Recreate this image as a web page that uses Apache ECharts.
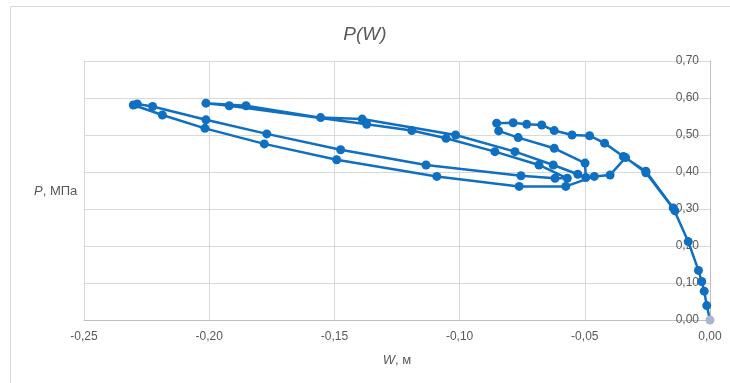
<!DOCTYPE html>
<html>
<head>
<meta charset="utf-8">
<script src="https://cdn.jsdelivr.net/npm/echarts@6/dist/echarts.min.js"></script>
<style>
html,body{margin:0;padding:0;background:#fff;}
#chart{width:730px;height:383px;}
</style>
</head>
<body>
<div id="chart"></div>
<script>
// Path of the P(W) curve, in drawing order
const W = [0, -0.0013, -0.0023, -0.0033, -0.0046, -0.0087, -0.0147, -0.0256, -0.0346,
  -0.0421, -0.0481, -0.0551, -0.0622, -0.0672, -0.0732, -0.0786, -0.0852, -0.0844, -0.0766, -0.0622, -0.0499,
  -0.0496, -0.0528, -0.0626,
  -0.0779, -0.1016, -0.1389, -0.1555, -0.1853, -0.2013,
  -0.1920, -0.1371, -0.1191, -0.1054, -0.0859, -0.0683, -0.0570,
  -0.0619, -0.0755, -0.1134, -0.1475, -0.1770, -0.2013, -0.2226, -0.2287,
  -0.2303, -0.2187, -0.2017, -0.1780, -0.1491, -0.1091, -0.0762, -0.0576,
  -0.0462, -0.0399, -0.0337, -0.0256, -0.0140];
const P = [0, 0.039, 0.078, 0.104, 0.134, 0.212, 0.303, 0.402, 0.442,
  0.478, 0.498, 0.500, 0.512, 0.527, 0.529, 0.533, 0.532, 0.511, 0.493, 0.464, 0.424,
  0.385, 0.394, 0.419,
  0.455, 0.500, 0.543, 0.547, 0.579, 0.586,
  0.579, 0.529, 0.512, 0.491, 0.455, 0.419, 0.383,
  0.383, 0.390, 0.419, 0.460, 0.503, 0.541, 0.577, 0.584,
  0.581, 0.554, 0.518, 0.476, 0.433, 0.388, 0.361, 0.361,
  0.388, 0.392, 0.439, 0.398, 0.295];

const xTicks = [-0.25, -0.20, -0.15, -0.10, -0.05, 0.00];
const yTicks = [0.00, 0.10, 0.20, 0.30, 0.40, 0.50, 0.60, 0.70];

const fmt = v => v.toFixed(2).replace('.', ',');
const blue = '#0F6FC1';

const data = W.map((w, i) => {
  const item = { value: [w, P[i]] };
  if (i === 0) item.itemStyle = { color: '#A9B7CE' };
  return item;
});

const chart = echarts.init(document.getElementById('chart'), null, { renderer: 'canvas' });
chart.setOption({
  animation: false,
  backgroundColor: '#ffffff',
  textStyle: { fontFamily: 'Liberation Sans, Arial, sans-serif' },
  title: {
    text: 'P(W)',
    left: 'center',
    top: 20,
    textStyle: { fontSize: 19, fontWeight: 'normal', fontStyle: 'italic', color: '#595959', fontFamily: 'Liberation Sans, Arial, sans-serif' }
  },
  graphic: [
    { type: 'rect', shape: { x: 10.5, y: 6.5, width: 740, height: 400 }, style: { fill: 'none', stroke: '#D9D9D9', lineWidth: 1 }, silent: true, z: -10 },
    { type: 'text', left: 34, top: 185, style: {
        text: '{i|P}, МПа',
        fill: '#595959', font: '13px Liberation Sans, Arial, sans-serif',
        rich: { i: { fontStyle: 'italic', fontSize: 13, fill: '#595959' } }
      } }
  ],
  grid: { left: 84, right: 20, top: 61, bottom: 63, containLabel: false },
  xAxis: {
    type: 'value',
    min: xTicks[0], max: xTicks[xTicks.length - 1], interval: 0.05,
    name: '{i|W}, м',
    nameLocation: 'middle',
    nameGap: 34,
    nameTextStyle: { color: '#595959', fontSize: 13, rich: { i: { fontStyle: 'italic', fontSize: 13, color: '#595959' } } },
    axisLine: { show: true, onZero: false, lineStyle: { color: '#BFBFBF', width: 1 } },
    axisTick: { show: false },
    axisLabel: { color: '#595959', fontSize: 12, margin: 11, formatter: v => fmt(v) },
    splitLine: { show: true, lineStyle: { color: '#D9D9D9', width: 1 } }
  },
  yAxis: {
    type: 'value',
    position: 'right',
    min: yTicks[0], max: yTicks[yTicks.length - 1], interval: 0.1,
    axisLine: { show: true, onZero: false, lineStyle: { color: '#BFBFBF', width: 1 } },
    axisTick: { show: false },
    axisLabel: { inside: true, color: '#595959', fontSize: 12, margin: 11, formatter: v => fmt(v) },
    splitLine: { show: true, lineStyle: { color: '#D9D9D9', width: 1 } }
  },
  series: [{
    type: 'line',
    data: data,
    symbol: 'circle',
    symbolSize: 9,
    showSymbol: true,
    showAllSymbol: true,
    lineStyle: { color: blue, width: 2.5 },
    itemStyle: { color: blue },
    z: 3
  }]
});
</script>
</body>
</html>
